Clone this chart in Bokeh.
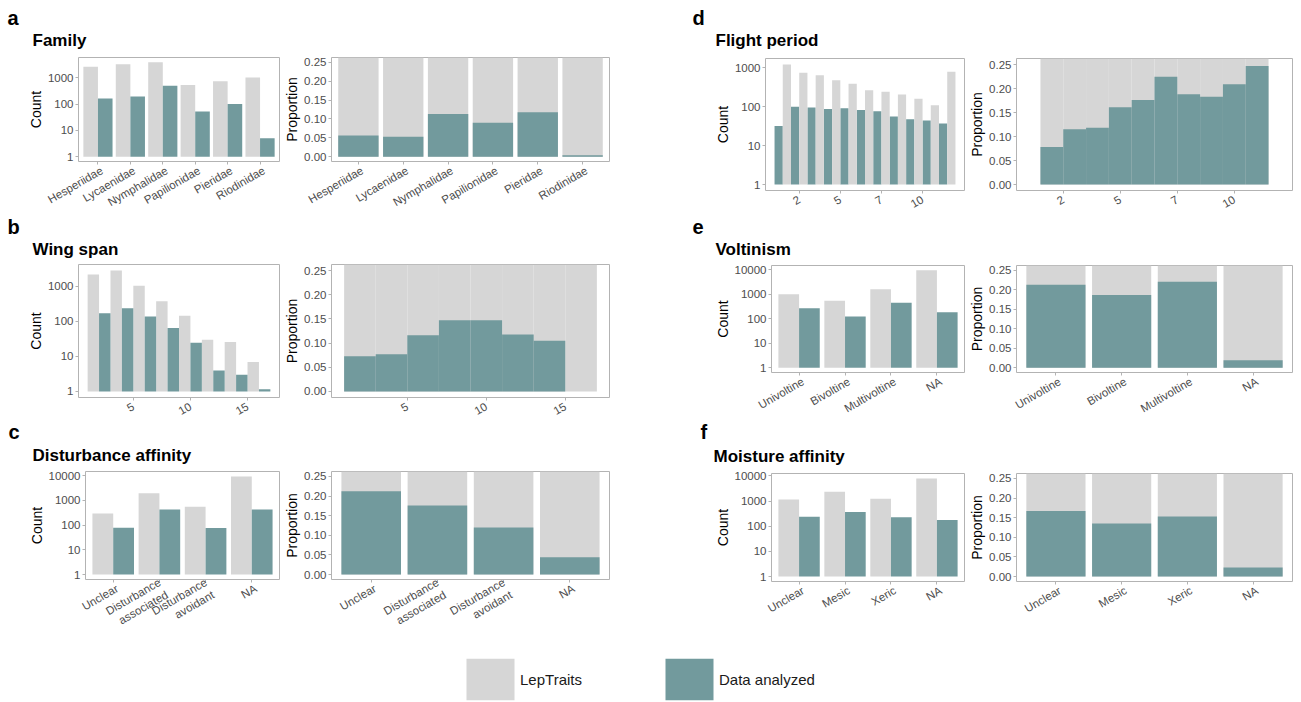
import math
from bokeh.plotting import figure
from bokeh.layouts import row, column
from bokeh.models import (Range1d, FixedTicker, NumeralTickFormatter, PrintfTickFormatter,
                          Label, Legend, LegendItem, ColumnDataSource, LinearAxis)
from bokeh.transform import dodge
from bokeh.embed import file_html
from bokeh.resources import INLINE

GRAY = "#D6D6D6"
TEAL = "#729A9D"
BORDER = "#B3B3B3"
TXT = "#4D4D4D"
FONT = "Liberation Sans"

# ---------------- data ----------------
count_ticks = [1, 10, 100, 1000, 10000]
prop_ticks = [0.0, 0.05, 0.10, 0.15, 0.20, 0.25]
prop_limits = [0.0, 0.25]
lep_share = 1.0  # LepTraits = whole set

family_cats = ["Hesperiidae", "Lycaenidae", "Nymphalidae", "Papilionidae", "Pieridae", "Riodinidae"]
family_lep = [2640, 3300, 3900, 530, 735, 1030]
family_used = [165, 195, 500, 53, 100, 5]
family_prop = [0.056, 0.053, 0.113, 0.090, 0.118, 0.004]

wing_bins = [2, 4, 6, 8, 10, 12, 14, 16]
wing_binwidth = 2
wing_lep = [2200, 2850, 1040, 380, 145, 30, 26, 7]
wing_used = [172, 240, 139, 65, 24.5, 4, 3, 1.15]
wing_prop = [0.073, 0.077, 0.116, 0.147, 0.147, 0.118, 0.105, 0.0]
wing_ticks = [5, 10, 15]

dist_cats = ["Unclear", "Disturbance\nassociated", "Disturbance\navoidant", "NA"]
dist_lep = [295, 1980, 560, 9400]
dist_used = [78, 435, 76, 435]
dist_prop = [0.212, 0.176, 0.120, 0.044]

flight_bins = [1.5, 2.5, 3.5, 4.5, 5.5, 6.5, 7.5, 8.5, 9.5, 10.5, 11.5]
flight_binwidth = 1
flight_lep = [1220, 743, 648, 482, 388, 267, 242, 206, 160, 110, 790]
flight_used = [32, 100, 96, 88, 91, 82, 77, 56, 47.5, 44, 37]
flight_prop_bins = [2, 3, 4, 5, 6, 7, 8, 9, 10, 11]
flight_prop = [0.078, 0.115, 0.118, 0.161, 0.176, 0.2245, 0.188, 0.183, 0.209, 0.247]
flight_ticks = [2.5, 5, 7.5, 10]
flight_tick_labels = ["2", "5", "7", "10"]

volt_cats = ["Univoltine", "Bivoltine", "Multivoltine", "NA"]
volt_lep = [1000, 548, 1620, 9500]
volt_used = [269, 124, 454, 185]
volt_prop = [0.213, 0.187, 0.221, 0.019]

moist_cats = ["Unclear", "Mesic", "Xeric", "NA"]
moist_lep = [1170, 2350, 1230, 8000]
moist_used = [240, 370, 228, 178]
moist_prop = [0.167, 0.135, 0.153, 0.023]

legend_labels = ["LepTraits", "Data analyzed"]

LABEL_SHIFT_PX = 4  # rotated category labels sit slightly right of their tick (ggplot hjust=1)


# ---------------- helpers ----------------
def style_axis(ax):
    ax.axis_line_color = None
    ax.major_tick_line_color = BORDER
    ax.major_tick_in = 0
    ax.major_tick_out = 3
    ax.minor_tick_line_color = None
    ax.major_label_text_color = TXT
    ax.major_label_text_font = FONT
    ax.major_label_text_font_size = "11.5px"
    ax.major_label_standoff = 2
    ax.axis_label_text_font = FONT
    ax.axis_label_text_font_size = "14px"
    ax.axis_label_text_font_style = "normal"
    ax.axis_label_text_color = "#000000"
    ax.axis_label_standoff = 4


def base_fig(w, h, L, R, T, B, xr, yr, log=False):
    p = figure(width=w, height=h, min_border_left=L, min_border_right=R,
               min_border_top=T, min_border_bottom=B, x_range=xr, y_range=yr,
               y_axis_type="log" if log else "linear",
               toolbar_location=None, output_backend="svg")
    p.grid.visible = False
    p.outline_line_color = BORDER
    p.outline_line_width = 1
    for ax in p.axis:
        style_axis(ax)
    p.yaxis.axis_label_standoff = 1
    p.xaxis.major_label_orientation = math.pi / 6
    p.xaxis.major_label_standoff = 5
    return p


def category_labels(p, pos, cats, geom, xr):
    """Tick marks at the category positions; rotated labels nudged right like ggplot's hjust=1."""
    w, h, L, R, T, B = geom
    frame_w = w - L - R
    d = round(LABEL_SHIFT_PX * (xr.end - xr.start) / frame_w, 4)
    ax = p.xaxis[0]
    ax.ticker = FixedTicker(ticks=pos)
    ax.major_label_overrides = {i: "" for i in pos}
    ax.major_label_text_font_size = "0px"
    ax.major_label_standoff = 0
    shifted = [round(i + d, 4) for i in pos]
    lab = LinearAxis(ticker=FixedTicker(ticks=shifted),
                     major_label_overrides={s: c for s, c in zip(shifted, cats)})
    style_axis(lab)
    lab.major_tick_line_color = None
    lab.major_tick_out = 0
    lab.major_label_orientation = math.pi / 6
    lab.major_label_standoff = 5
    p.add_layout(lab, "below")


def log_range(*series):
    m = math.log10(max(max(s) for s in series))
    return Range1d(10 ** (-0.05 * m), 10 ** (1.05 * m))


def prop_range():
    lo, hi = prop_limits
    pad = 0.05 * (hi - lo)
    return Range1d(lo - pad, hi + pad)


def hist_range(bins, bw):
    lo, hi = bins[0] - bw / 2, bins[-1] + bw / 2
    pad = 0.05 * (hi - lo)
    return (lo - pad, hi + pad)


def count_axis(p):
    p.yaxis.ticker = FixedTicker(ticks=count_ticks)
    p.yaxis.formatter = NumeralTickFormatter(format="0")
    p.yaxis.axis_label = "Count"


def prop_axis(p):
    p.yaxis.ticker = FixedTicker(ticks=prop_ticks)
    p.yaxis.formatter = PrintfTickFormatter(format="%.2f")
    p.yaxis.axis_label = "Proportion"


def cat_count(cats, lep, used, geom):
    n = len(cats)
    pos = list(range(1, n + 1))
    xr = Range1d(0.4, n + 0.6)
    p = base_fig(*geom, xr, log_range(lep, used), log=True)
    src = ColumnDataSource(dict(x=pos, lep=lep, used=used))
    p.vbar(x=dodge("x", -0.225), top="lep", bottom=1, width=0.45, source=src,
           fill_color=GRAY, line_color=None)
    p.vbar(x=dodge("x", 0.225), top="used", bottom=1, width=0.45, source=src,
           fill_color=TEAL, line_color=None)
    category_labels(p, pos, cats, geom, xr)
    count_axis(p)
    return p


def cat_prop(cats, prop, geom):
    n = len(cats)
    pos = list(range(1, n + 1))
    xr = Range1d(0.4, n + 0.6)
    p = base_fig(*geom, xr, prop_range())
    src = ColumnDataSource(dict(x=pos, prop=prop, whole=[lep_share] * n))
    p.vbar(x="x", top="whole", bottom=0, width=0.9, source=src, fill_color=GRAY, line_color=None)
    p.vbar(x="x", top="prop", bottom=0, width=0.9, source=src, fill_color=TEAL, line_color=None)
    category_labels(p, pos, cats, geom, xr)
    prop_axis(p)
    return p


def hist_count(bins, bw, left_vals, left_color, right_vals, right_color, xr, geom):
    p = base_fig(*geom, Range1d(*xr), log_range(left_vals, right_vals), log=True)
    src = ColumnDataSource(dict(x=bins, a=left_vals, b=right_vals))
    p.vbar(x=dodge("x", -bw / 4), top="a", bottom=1, width=bw / 2, source=src,
           fill_color=left_color, line_color=None)
    p.vbar(x=dodge("x", bw / 4), top="b", bottom=1, width=bw / 2, source=src,
           fill_color=right_color, line_color=None)
    count_axis(p)
    return p


def hist_prop(bins, bw, prop, xr, geom):
    p = base_fig(*geom, Range1d(*xr), prop_range())
    src = ColumnDataSource(dict(x=bins, prop=prop, whole=[lep_share] * len(bins)))
    p.vbar(x="x", top="whole", bottom=0, width=bw, source=src, fill_color=GRAY, line_color=None)
    p.vbar(x="x", top="prop", bottom=0, width=bw, source=src, fill_color=TEAL, line_color=None)
    prop_axis(p)
    return p


LABEL_LIFT = 6  # label baseline correction (px)


def header(width, height, x0, y0, letter, letter_at, title, title_at):
    h = figure(width=width, height=height, min_border=0, x_axis_location=None,
               y_axis_location=None, x_range=Range1d(0, width), y_range=Range1d(height, 0),
               toolbar_location=None, output_backend="svg")
    h.grid.visible = False
    h.outline_line_color = None
    h.add_layout(Label(x=letter_at[0] - x0, y=letter_at[1] - y0 - LABEL_LIFT, text=letter,
                       text_font=FONT, text_font_size="20px", text_font_style="bold",
                       text_color="#000000", text_baseline="alphabetic", text_align="left"))
    h.add_layout(Label(x=title_at[0] - x0, y=title_at[1] - y0 - LABEL_LIFT, text=title,
                       text_font=FONT, text_font_size="17px", text_font_style="bold",
                       text_color="#000000", text_baseline="alphabetic", text_align="left"))
    return h


# ---------------- panels ----------------
# geometry tuples: (width, height, border L, R, T, B)
Ha = header(640, 50, 0, 0, "a", (7, 23), "Family", (32, 46))
A1 = cat_count(family_cats, family_lep, family_used, (281, 166, 78, 2, 7, 52))
A2 = cat_prop(family_cats, family_prop, (359, 166, 48, 31, 7, 52))

Hb = header(640, 44, 0, 216, "b", (7, 232), "Wing span", (32, 255))
wing_xr = hist_range(wing_bins, wing_binwidth)
B1 = hist_count(wing_bins, wing_binwidth, wing_lep, GRAY, wing_used, TEAL, wing_xr,
                (281, 162, 78, 2, 3, 25))
B1.xaxis.ticker = FixedTicker(ticks=wing_ticks)
B2 = hist_prop(wing_bins, wing_binwidth, wing_prop, wing_xr, (359, 162, 48, 31, 4, 25))
B2.xaxis.ticker = FixedTicker(ticks=wing_ticks)

Hc = header(640, 44, 0, 422, "c", (8, 437), "Disturbance affinity", (32, 461))
C1 = cat_count(dist_cats, dist_lep, dist_used, (281, 182, 85, 2, 5, 69))
C2 = cat_prop(dist_cats, dist_prop, (359, 182, 48, 31, 5, 69))

Hd = header(661, 50, 640, 0, "d", (692, 23), "Flight period", (715, 46))
flight_xr = hist_range(flight_bins, flight_binwidth)
flight_overrides = {t: s for t, s in zip(flight_ticks, flight_tick_labels)}
D1 = hist_count(flight_bins, flight_binwidth, flight_used, TEAL, flight_lep, GRAY, flight_xr,
                (326, 166, 125, 2, 7, 25))
D1.xaxis.ticker = FixedTicker(ticks=flight_ticks)
D1.xaxis.major_label_overrides = flight_overrides
D2 = hist_prop(flight_prop_bins, flight_binwidth, flight_prop, flight_xr, (335, 166, 48, 9, 8, 26))
D2.xaxis.ticker = FixedTicker(ticks=flight_ticks)
D2.xaxis.major_label_overrides = flight_overrides

He = header(661, 44, 640, 216, "e", (692, 232), "Voltinism", (715, 255))
E1 = cat_count(volt_cats, volt_lep, volt_used, (326, 162, 131, 2, 5, 49))
E2 = cat_prop(volt_cats, volt_prop, (335, 162, 48, 9, 5, 49))

Hf = header(661, 44, 640, 422, "f", (700, 437), "Moisture affinity", (713, 462))
F1 = cat_count(moist_cats, moist_lep, moist_used, (326, 182, 131, 2, 6, 67))
F2 = cat_prop(moist_cats, moist_prop, (335, 182, 48, 9, 7, 67))

# ---------------- legend ----------------
LG = figure(width=1301, height=54, min_border=0, x_axis_location=None, y_axis_location=None,
            x_range=Range1d(0, 1), y_range=Range1d(0, 1),
            toolbar_location=None, output_backend="svg")
LG.grid.visible = False
LG.outline_line_color = None
# zero-height swatch proxies: only their legend glyphs are visible
r1 = LG.vbar(x=[0.5], top=[0], bottom=0, width=0.1, fill_color=GRAY, line_color=None)
r2 = LG.vbar(x=[0.5], top=[0], bottom=0, width=0.1, fill_color=TEAL, line_color=None)
legend = Legend(items=[LegendItem(label=legend_labels[0], renderers=[r1]),
                       LegendItem(label=legend_labels[1], renderers=[r2])],
                location=(460, -3), orientation="horizontal",
                glyph_width=60, glyph_height=52, label_standoff=0, spacing=77,
                padding=0, margin=0, border_line_color=None, background_fill_alpha=0,
                label_text_font=FONT, label_text_font_size="15px", label_text_color="#1A1A1A")
LG.add_layout(legend, "center")

left = column(Ha, row(A1, A2), Hb, row(B1, B2), Hc, row(C1, C2))
right = column(Hd, row(D1, D2), He, row(E1, E2), Hf, row(F1, F2))
layout = column(row(left, right), LG)

open("out.html", "w").write(file_html(layout, INLINE))
